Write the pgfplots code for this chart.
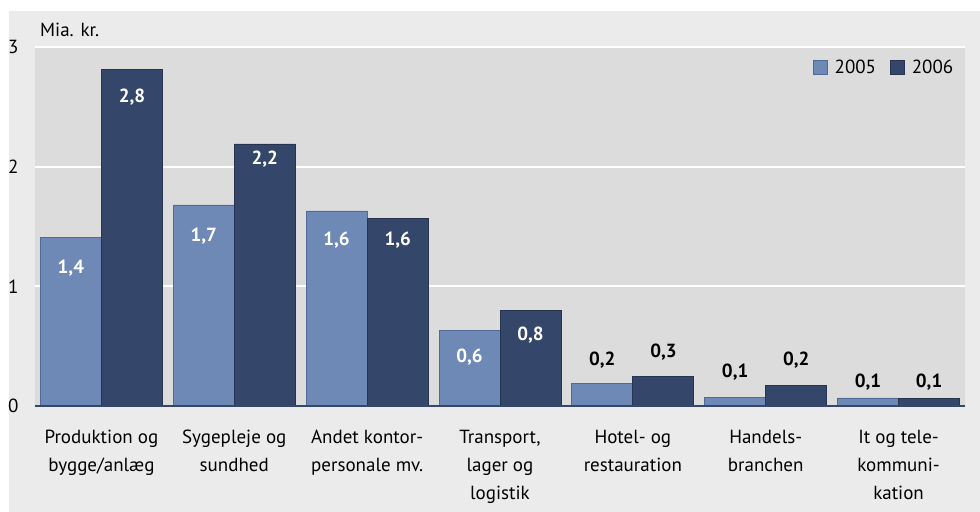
\documentclass[border=0pt]{standalone}
\usepackage{pgfplots}
\pgfplotsset{compat=1.18}
\usepackage{fontspec}
\setmainfont{PT Sans}
\definecolor{panel}{RGB}{235,235,235}
\definecolor{plotbg}{RGB}{220,220,220}
\definecolor{lightbar}{RGB}{110,137,182}
\definecolor{lightedge}{RGB}{80,105,150}
\definecolor{darkbar}{RGB}{52,70,106}
\definecolor{darkedge}{RGB}{38,52,82}
\newcommand{\fs}{\fontsize{19bp}{28bp}\selectfont}
\begin{document}
\begin{tikzpicture}
\path[use as bounding box] (-35bp,-106bp) rectangle (945bp,406bp);
\fill[panel] (-26bp,-106bp) rectangle (945bp,395bp);
\node[anchor=base west, inner sep=0pt, font=\fs] at (5bp,369bp) {Mia. kr.};
\begin{axis}[
  at={(0,0)}, anchor=south west,
  scale only axis, width=930bp, height=359bp,
  ybar=0pt, bar width=61bp,
  xmin=-0.5, xmax=6.5, ymin=0, ymax=3,
  axis background/.style={fill=plotbg},
  axis line style={draw=none},
  major tick length=0pt,
  ytick={0,1,2,3},
  ymajorgrids, grid style={white, line width=2bp},
  /pgf/number format/assume math mode=true,
  tick label style={font=\fs},
  yticklabel style={anchor=west, inner sep=0pt, xshift=-27bp},
  xtick={0,...,6},
  xticklabels={{Produktion og\\bygge/anlæg},{Sygepleje og\\sundhed},{Andet kontor-\\personale mv.},{Transport,\\lager og\\logistik},{Hotel- og\\restauration},{Handels-\\branchen},{It og tele-\\kommuni-\\kation}},
  xticklabel style={align=center, anchor=north, inner sep=0pt, yshift=-24bp},
  legend style={at={(0.993,0.975)}, anchor=north east, draw=none, fill=none, font=\fs,
    legend columns=2,
    /tikz/every odd column/.append style={column sep=5bp},
    /tikz/every even column/.append style={column sep=12bp}},
  legend image code/.code={\draw[#1] (0bp,-7bp) rectangle (14bp,7bp);},
]
\addplot[fill=lightbar, draw=lightedge, line width=0.8bp] coordinates {(0,1.41) (1,1.68) (2,1.63) (3,0.635) (4,0.19) (5,0.075) (6,0.067)};
\addplot[fill=darkbar, draw=darkedge, line width=0.8bp] coordinates {(0,2.81) (1,2.19) (2,1.57) (3,0.80) (4,0.25) (5,0.175) (6,0.06)};
\legend{2005,2006}
\draw[darkbar, line width=1.2bp] (axis cs:-0.5,0) -- (axis cs:6.5,0);
\begin{scope}[every node/.style={font=\fs\bfseries}]
\node[white] at (axis cs:-0.23,1.15) {1,4};
\node[white] at (axis cs:0.23,2.58) {2,8};
\node[white] at (axis cs:0.77,1.42) {1,7};
\node[white] at (axis cs:1.23,2.06) {2,2};
\node[white] at (axis cs:1.77,1.39) {1,6};
\node[white] at (axis cs:2.23,1.39) {1,6};
\node[white] at (axis cs:2.77,0.41) {0,6};
\node[white] at (axis cs:3.23,0.59) {0,8};
\node at (axis cs:3.77,0.38) {0,2};
\node at (axis cs:4.23,0.45) {0,3};
\node at (axis cs:4.77,0.28) {0,1};
\node at (axis cs:5.23,0.38) {0,2};
\node at (axis cs:5.77,0.20) {0,1};
\node at (axis cs:6.23,0.20) {0,1};
\end{scope}
\end{axis}
\end{tikzpicture}
\end{document}
